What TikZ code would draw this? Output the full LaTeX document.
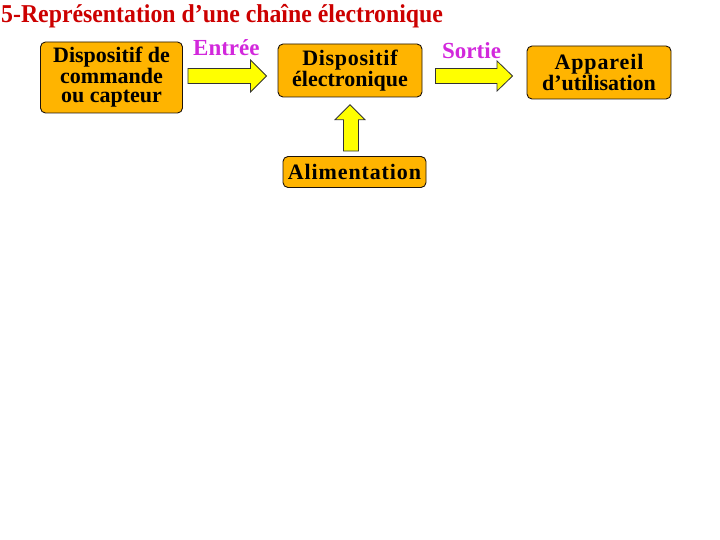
\documentclass[tikz,border=0pt]{standalone}
\usepackage{fontspec}
\setmainfont{Liberation Serif}
\usetikzlibrary{calc}
\definecolor{boxorange}{RGB}{255,180,0}
\definecolor{titlered}{RGB}{204,0,0}
\definecolor{labmag}{RGB}{210,40,220}
\definecolor{arrowyellow}{RGB}{255,255,0}
\tikzset{
  blockbox/.style={draw=black!85!brown, line width=0.9pt, fill=boxorange, rounded corners=5pt,
    inner sep=0pt, align=center, font=\fontsize{22}{18}\selectfont\bfseries},
  fatarrow/.style={draw=black!80, line width=0.8pt, fill=arrowyellow, line join=miter},
  labeltext/.style={text=labmag, font=\fontsize{23}{23}\selectfont\bfseries, inner sep=0pt, anchor=base west}
}
\begin{document}
\begin{tikzpicture}[x=1pt,y=-1pt]
\useasboundingbox (0,0) rectangle (720,540);
% title
\node[text=titlered, font=\fontsize{23.8}{24}\selectfont\bfseries, inner sep=0pt, anchor=base west] (title) at (1,23) {\scalebox{1}[1.08]{5-Représentation d’une chaîne électronique}};
% boxes
\node[blockbox, minimum width=142pt, minimum height=71pt, font=\fontsize{22}{19.2}\selectfont\bfseries] (cmd) at (111.5,77.5) {Dispositif de\\commande\\ou capteur};
\node[blockbox, minimum width=144pt, minimum height=53pt] (elec) at (350,70.5) {\addfontfeature{LetterSpace=3}Dispositif\\électronique};
\node[blockbox, minimum width=144pt, minimum height=53pt] (app) at (599,72.5) {\addfontfeature{LetterSpace=4}Appareil\\d’utilisation};
\node[blockbox, minimum width=143pt, minimum height=31pt] (alim) at (354.5,172) {\addfontfeature{LetterSpace=4}Alimentation};
% labels
\node[labeltext] (entree) at (193,56) {Entrée};
\node[labeltext] (sortie) at (442,59) {Sortie};
% arrow coordinates
\coordinate (a1t) at ($(cmd.east)+(5,-1.5)$);
\coordinate (a1h) at ($(elec.west)+(-11,5.5)$);
\coordinate (a2t) at ($(elec.east)+(13,5.5)$);
\coordinate (a2h) at ($(app.west)+(-14,3.5)$);
\coordinate (a3t) at ($(alim.north)+(-3.5,-5)$);
\coordinate (a3h) at ($(elec.south)+(0,7.3)$);
% right arrows
\draw[fatarrow] (a1t) ++(0,-7.5) -| ($(a1h)+(-16,-16)$) -- (a1h) -- ($(a1h)+(-16,16)$) |- ($(a1t)+(0,7.5)$) -- cycle;
\draw[fatarrow] (a2t) ++(0,-7.5) -| ($(a2h)+(-15.5,-15)$) -- (a2h) -- ($(a2h)+(-15.5,15)$) |- ($(a2t)+(0,7.5)$) -- cycle;
% up arrow
\draw[fatarrow] (a3t) ++(-7.5,0) |- ($(a3h)+(-15,15)$) -- (a3h) -- ($(a3h)+(15,15)$) -| ($(a3t)+(7.5,0)$) -- cycle;
\end{tikzpicture}
\end{document}
